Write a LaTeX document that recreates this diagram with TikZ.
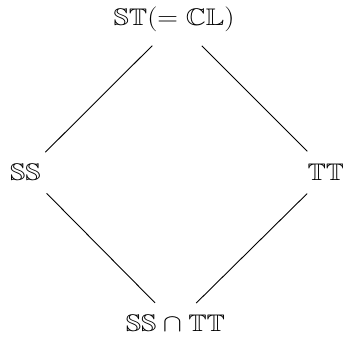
\documentclass[tikz,border=0pt]{standalone}
\usepackage{amssymb}
\newcommand{\wide}[1]{\scalebox{1.15}[1]{#1}}
\tikzset{
  lbl/.style={inner sep=0pt, font=\fontsize{24}{29}\selectfont},
  edge/.style={line width=0.9pt}
}
\begin{document}
\begin{tikzpicture}[x=1pt,y=1pt]
\useasboundingbox (0,0) rectangle (343,-341);
\node[lbl] (t) at (174,-19) {\wide{$\mathbb{ST}(=\mathbb{CL})$}};
\node[lbl] (l) at (25.5,-172) {\wide{$\mathbb{SS}$}};
\node[lbl] (r) at (326,-172.5) {\wide{$\mathbb{TT}$}};
\node[lbl] (b) at (175.5,-323.5) {\wide{$\mathbb{SS}\cap\mathbb{TT}$}};
\coordinate (tv) at (177,-21);
\coordinate (rv) at (328.5,-172.5);
\draw[edge, shorten <=35pt, shorten >=28pt] (tv) -- (l.center);
\draw[edge, shorten <=35pt, shorten >=30pt] (tv) -- (rv);
\draw[edge, shorten <=30pt, shorten >=29pt] (l.center) -- (b.center);
\draw[edge, shorten <=30pt, shorten >=29pt] (rv) -- (b.center);
\end{tikzpicture}
\end{document}
